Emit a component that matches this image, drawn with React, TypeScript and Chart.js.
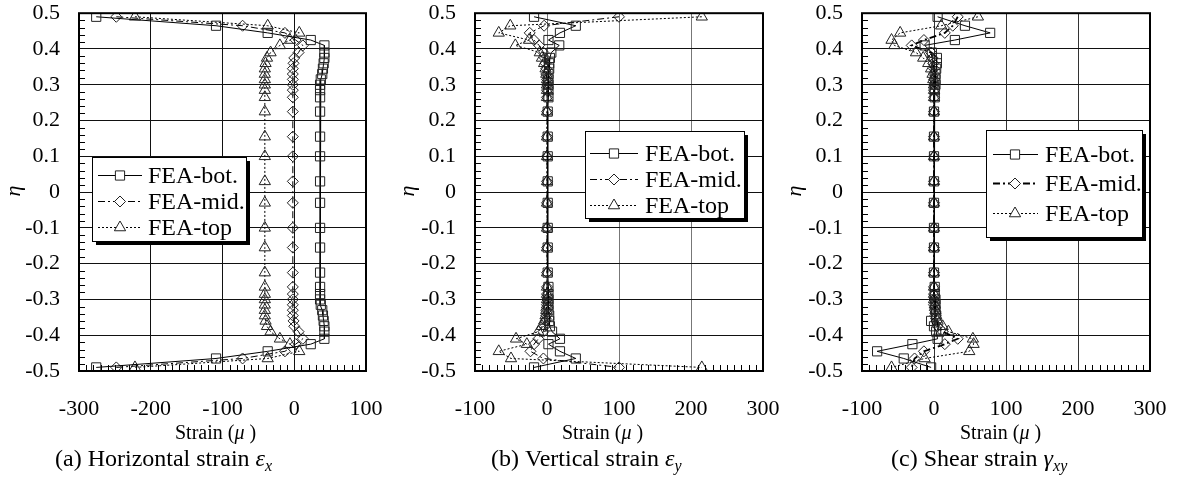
import React, { useEffect, useRef } from 'react';
import { Chart, registerables } from 'chart.js';

Chart.register(...registerables);

// ---------------- DATA ----------------
const ETA = [
  0.49, 0.465, 0.445, 0.425, 0.41, 0.39, 0.375, 0.36, 0.345, 0.33,
  0.315, 0.3, 0.285, 0.265, 0.225, 0.155, 0.1, 0.03, -0.03, -0.1,
  -0.155, -0.225, -0.265, -0.285, -0.3, -0.315,
  -0.33, -0.345, -0.36, -0.375, -0.39, -0.41, -0.425, -0.445, -0.465, -0.49,
];

// (a) Horizontal strain
const A_BOT = [
  -276, -109, -37, 23, 42, 42, 42, 41, 40, 39,
  37, 36, 36, 36, 36, 36, 36, 36, 36, 36,
  36, 36, 36, 36, 36, 37,
  39, 40, 41, 42, 42, 42, 23, -37, -109, -276,
];
const A_MID = [
  -248, -72, -13, 2, 12, 6, 0, -1, -2, -2,
  -2, -2, -2, -2, -2, -2, -2, -2, -2, -2,
  -2, -2, -2, -2, -2, -2,
  -2, -2, -1, 0, 6, 12, 2, -13, -72, -248,
];
const A_TOP = [
  -222, -37, 7, -6, -20, -33, -38, -40, -41, -41,
  -41, -41, -41, -41, -41, -41, -41, -41, -41, -41,
  -41, -41, -41, -41, -41, -41,
  -41, -41, -40, -38, -33, -20, -6, 7, -37, -222,
];

// (b) Vertical strain
const B_BOT = [
  -18, 40, 18, 2, 17, 6, 4, 3, 3, 2,
  2, 2, 2, 2, 1, 1, 1, 1, 1, 1,
  1, 1, 2, 2, 2, 2,
  2, 3, 3, 4, 7, 18, 2, 18, 40, -18,
];
const B_MID = [
  100, -4, -24, -18, -11, -5, -3, -2, -1, -1,
  0, 0, 0, 0, 0, 0, 0, 0, 0, 0,
  0, 0, 0, 0, 0, 0,
  -1, -1, -2, -3, -5, -12, -18, -23, -5, 100,
];
const B_TOP = [
  215, -51, -67, -25, -44, -10, -7, -4, -2, -1,
  0, 0, 0, 0, 0, 0, 0, 0, 0, 0,
  0, 0, 0, 0, 0, 0,
  -1, -2, -4, -7, -12, -43, -28, -67, -50, 215,
];

// (c) Shear strain
const C_BOT = [
  5, 43, 78, 29, -13, -3, 4, 4, 3, 2,
  2, 2, 1, 1, 0, 0, 0, 0, 0, 0,
  0, 0, 1, 1, 2, 2,
  2, 3, -4, 0, 3, 5, -30, -79, -42, -4,
];
const C_MID = [
  33, 26, 15, -14, -31, -4, -2, -1, 0, 0,
  0, 0, 0, 0, 0, 0, 0, 0, 0, 0,
  0, 0, 0, 0, 0, 0,
  1, 2, 4, 5, 12, 33, 15, -14, -27, -31,
];
const C_TOP = [
  61, 10, -47, -59, -55, -25, -15, -8, -4, -2,
  -1, 0, 0, 0, 0, 0, 0, 0, 0, 0,
  0, 0, 0, 0, 0, 1,
  2, 3, 5, 12, 20, 54, 55, 49, -13, -59,
];

const Y_TICKS = [-0.5, -0.4, -0.3, -0.2, -0.1, 0, 0.1, 0.2, 0.3, 0.4, 0.5];
const X_TICKS_A = [-300, -200, -100, 0, 100];
const X_TICKS_BC = [-100, 0, 100, 200, 300];
const SERIES_NAMES = ['FEA-bot.', 'FEA-mid.', 'FEA-top'];
const X_TITLE = ['Strain (', 'μ', ' )'];
const Y_TITLE = 'η';
const CAPTION_A = ['(a) Horizontal strain ', 'ε', 'x'];
const CAPTION_B = ['(b) Vertical strain ', 'ε', 'y'];
const CAPTION_C = ['(c) Shear strain ', 'γ', 'xy'];

// ---------------- STYLE ----------------
const FONT = "'Liberation Serif', 'Times New Roman', Times, serif";
const H = 490;
const PLOT_TOP = 12.5;
const X_AXIS_H = 119; // bottom of plot at 371
const TICK_FONT = 22;

const STYLES = [
  { style: 'rect', radius: 6.5, dash: [] as number[] },
  { style: 'rectRot', radius: 5.5, dash: [7, 3, 2, 3] },
  { style: 'triangle', radius: 6.5, dash: [2, 2] },
];

type Leg = { x: number; y: number; w: number; h: number; rows: number[]; lx0: number; lx1: number; mx: number; tx: number };
type Cfg = {
  left: number; width: number; yAxisWidth: number; padRight: number;
  xTicks: number[]; series: number[][]; vGrid: string; midWidth: number;
  legend: Leg; etaX: number; strainX: number; captionX: number; caption: string[];
};

const PANELS: Cfg[] = [
  {
    left: 0, width: 395, yAxisWidth: 79, padRight: 29, xTicks: X_TICKS_A,
    series: [A_BOT, A_MID, A_TOP], vGrid: '#111', midWidth: 1,
    legend: { x: 92, y: 157, w: 154, h: 84, rows: [175, 201, 227], lx0: 98, lx1: 142, mx: 120, tx: 148 },
    etaX: 14, strainX: 175, captionX: 55, caption: CAPTION_A,
  },
  {
    left: 395, width: 395, yAxisWidth: 80, padRight: 27, xTicks: X_TICKS_BC,
    series: [B_BOT, B_MID, B_TOP], vGrid: '#777', midWidth: 1,
    legend: { x: 190, y: 131, w: 159, h: 87, rows: [153, 179, 205], lx0: 195, lx1: 243, mx: 219, tx: 250 },
    etaX: 13, strainX: 167, captionX: 96, caption: CAPTION_B,
  },
  {
    left: 790, width: 394, yAxisWidth: 72, padRight: 34, xTicks: X_TICKS_BC,
    series: [C_BOT, C_MID, C_TOP], vGrid: '#333', midWidth: 1.8,
    legend: { x: 196, y: 130, w: 156, h: 107, rows: [154, 183, 213], lx0: 203, lx1: 248, mx: 225, tx: 255 },
    etaX: 5, strainX: 170, captionX: 101, caption: CAPTION_C,
  },
];

function drawMarker(ctx: CanvasRenderingContext2D, kind: string, x: number, y: number, r: number) {
  ctx.beginPath();
  if (kind === 'rect') {
    const s = r * Math.SQRT1_2;
    ctx.rect(x - s, y - s, 2 * s, 2 * s);
  } else if (kind === 'rectRot') {
    ctx.moveTo(x, y - r);
    ctx.lineTo(x + r, y);
    ctx.lineTo(x, y + r);
    ctx.lineTo(x - r, y);
    ctx.closePath();
  } else {
    for (let i = 0; i < 3; i++) {
      const a = (i * 2 * Math.PI) / 3;
      const px = x + Math.sin(a) * r;
      const py = y - Math.cos(a) * r;
      if (i === 0) ctx.moveTo(px, py); else ctx.lineTo(px, py);
    }
    ctx.closePath();
  }
  ctx.fillStyle = '#fff';
  ctx.fill();
  ctx.stroke();
}

function drawRuns(ctx: CanvasRenderingContext2D, x: number, y: number, runs: { t: string; font: string; dy?: number }[]) {
  let cx = x;
  for (const r of runs) {
    ctx.font = r.font;
    ctx.fillText(r.t, cx, y + (r.dy || 0));
    cx += ctx.measureText(r.t).width;
  }
}

function Panel({ cfg }: { cfg: Cfg }) {
  const ref = useRef<HTMLCanvasElement>(null);
  useEffect(() => {
    const xMin = cfg.xTicks[0];
    const xMax = cfg.xTicks[cfg.xTicks.length - 1];
    const deco = {
      id: 'deco',
      afterDraw(chart: any) {
        const ctx: CanvasRenderingContext2D = chart.ctx;
        const { left, right, top, bottom } = chart.chartArea;
        const xs = chart.scales.x;
        const ys = chart.scales.y;
        ctx.save();
        ctx.strokeStyle = '#000';
        ctx.lineWidth = 1;
        ctx.setLineDash([]);
        ctx.beginPath();
        for (let i = -25; i <= 25; i++) {
          if (i % 5 === 0) continue;
          const py = Math.round(ys.getPixelForValue(i * 0.02)) + 0.5;
          ctx.moveTo(left, py);
          ctx.lineTo(left + 6, py);
        }
        for (let v = xMin; v <= xMax; v += 10) {
          if (v % 100 === 0) continue;
          const px = Math.round(xs.getPixelForValue(v)) + 0.5;
          ctx.moveTo(px, bottom);
          ctx.lineTo(px, bottom - 6);
        }
        ctx.stroke();
        // frame
        ctx.lineWidth = 2;
        ctx.strokeRect(left, top, right - left, bottom - top);

        // legend
        const L = cfg.legend;
        ctx.fillStyle = '#000';
        ctx.fillRect(L.x + 4, L.y + 4, L.w, L.h);
        ctx.fillStyle = '#fff';
        ctx.fillRect(L.x, L.y, L.w, L.h);
        ctx.lineWidth = 1;
        ctx.strokeStyle = '#000';
        ctx.strokeRect(L.x + 0.5, L.y + 0.5, L.w, L.h);
        for (let i = 0; i < 3; i++) {
          const y = L.rows[i] + 0.5;
          const st = STYLES[i];
          ctx.strokeStyle = '#000';
          ctx.lineWidth = i === 1 ? cfg.midWidth : 1;
          ctx.setLineDash(st.dash);
          ctx.beginPath();
          ctx.moveTo(L.lx0, y);
          ctx.lineTo(L.lx1, y);
          ctx.stroke();
          ctx.setLineDash([]);
          ctx.lineWidth = 1;
          ctx.strokeStyle = '#222';
          drawMarker(ctx, st.style, L.mx, y, st.radius);
          ctx.fillStyle = '#000';
          ctx.textAlign = 'left';
          ctx.textBaseline = 'alphabetic';
          ctx.font = `24px ${FONT}`;
          ctx.fillText(SERIES_NAMES[i], L.tx, L.rows[i] + 8);
        }

        // axis titles and caption
        ctx.fillStyle = '#000';
        ctx.textAlign = 'left';
        ctx.textBaseline = 'alphabetic';
        drawRuns(ctx, cfg.strainX, 439, [
          { t: X_TITLE[0], font: `20px ${FONT}` },
          { t: X_TITLE[1], font: `italic 20px ${FONT}` },
          { t: X_TITLE[2], font: `20px ${FONT}` },
        ]);
        drawRuns(ctx, cfg.captionX, 466, [
          { t: cfg.caption[0], font: `24px ${FONT}` },
          { t: cfg.caption[1], font: `italic 24px ${FONT}` },
          { t: cfg.caption[2], font: `italic 16px ${FONT}`, dy: 5 },
        ]);
        ctx.translate(cfg.etaX, 191);
        ctx.rotate(-Math.PI / 2);
        ctx.textAlign = 'center';
        ctx.textBaseline = 'middle';
        ctx.font = `italic 22px ${FONT}`;
        ctx.fillText(Y_TITLE, 0, 0);
        ctx.restore();
      },
    };

    const datasets = cfg.series.map((vals, i) => ({
      label: SERIES_NAMES[i],
      data: ETA.map((e, k) => ({ x: vals[k], y: e })),
      showLine: true,
      borderColor: '#000',
      borderWidth: i === 1 ? cfg.midWidth : 1,
      borderDash: STYLES[i].dash,
      pointStyle: STYLES[i].style as any,
      pointRadius: STYLES[i].radius,
      pointBorderColor: '#222',
      pointBorderWidth: 1,
      pointBackgroundColor: 'rgba(255,255,255,0)',
      tension: 0,
    }));

    const chart = new Chart(ref.current as HTMLCanvasElement, {
      type: 'scatter',
      data: { datasets },
      options: {
        animation: false,
        responsive: false,
        devicePixelRatio: 1,
        events: [],
        layout: { autoPadding: false, padding: { left: 0, top: PLOT_TOP, right: cfg.padRight, bottom: 0 } },
        plugins: { legend: { display: false }, tooltip: { enabled: false } },
        scales: {
          x: {
            type: 'linear',
            min: xMin,
            max: xMax,
            afterBuildTicks: (s: any) => { s.ticks = cfg.xTicks.map((v) => ({ value: v })); },
            afterFit: (s: any) => { s.height = X_AXIS_H; },
            ticks: { padding: 0, color: '#000', font: { family: FONT, size: TICK_FONT }, maxRotation: 0, autoSkip: false, callback: (v: any) => String(v) },
            grid: { color: cfg.vGrid, lineWidth: 1, drawTicks: true, tickLength: 25, tickColor: 'rgba(0,0,0,0)' },
            border: { display: false },
          },
          y: {
            type: 'linear',
            min: -0.5,
            max: 0.5,
            afterBuildTicks: (s: any) => { s.ticks = Y_TICKS.map((v) => ({ value: v })); },
            afterFit: (s: any) => { s.width = cfg.yAxisWidth; },
            ticks: {
              padding: 0, color: '#000', font: { family: FONT, size: TICK_FONT }, autoSkip: false,
              callback: (v: any) => { const r = Math.round(Number(v) * 10) / 10; return r === 0 ? '0' : String(r); },
            },
            grid: { color: '#111', lineWidth: 1, drawTicks: true, tickLength: 19, tickColor: 'rgba(0,0,0,0)' },
            border: { display: false },
          },
        },
      },
      plugins: [deco],
    } as any);
    return () => chart.destroy();
  }, []);
  return (
    <div style={{ position: 'absolute', left: cfg.left, top: 0, width: cfg.width, height: H }}>
      <canvas ref={ref} width={cfg.width} height={H} style={{ width: cfg.width, height: H, display: 'block' }} />
    </div>
  );
}

export default function App() {
  return (
    <div style={{ position: 'fixed', left: 0, top: 0, width: 1184, height: H, background: '#fff', overflow: 'hidden' }}>
      {PANELS.map((p, i) => (
        <Panel key={i} cfg={p} />
      ))}
    </div>
  );
}
